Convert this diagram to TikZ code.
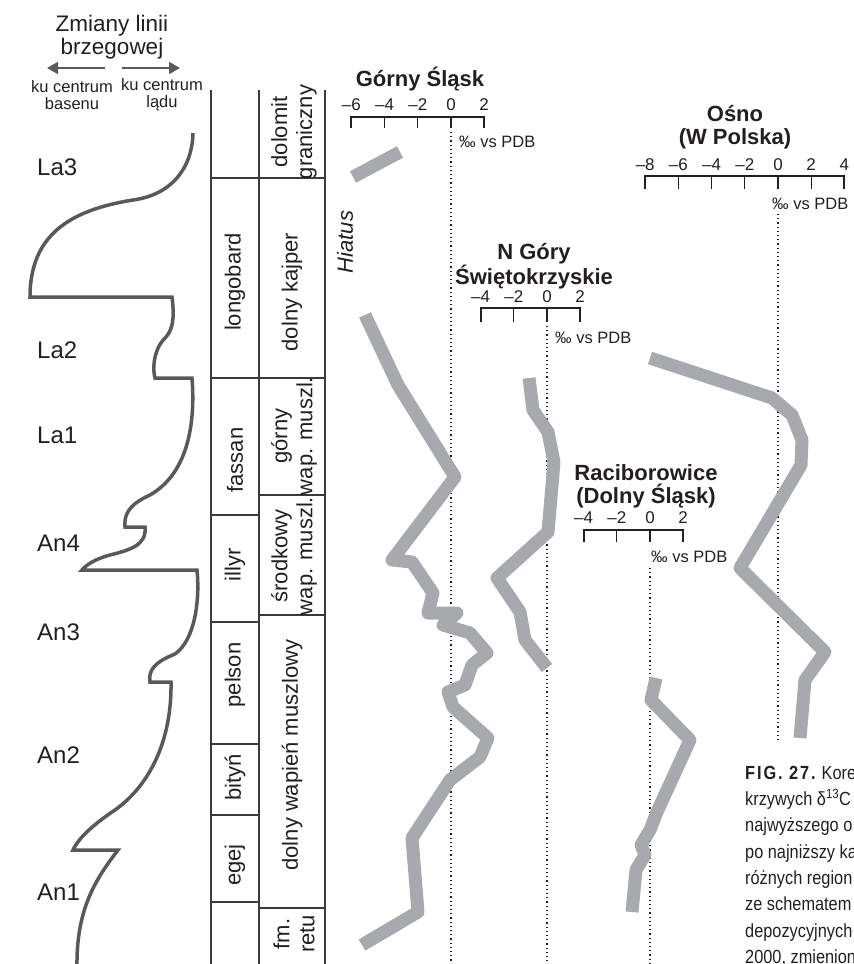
\documentclass[tikz,border=0pt]{standalone}
\usepackage{fontspec}
\setmainfont{Liberation Sans}
\newfontfamily\capfont{Liberation Sans}[FakeStretch=0.86]
\usetikzlibrary{arrows.meta}

\definecolor{shore}{HTML}{58595B}
\definecolor{isogray}{HTML}{A7A9AC}
\definecolor{ink}{HTML}{231F20}
\definecolor{rule}{HTML}{3A3A3C}

\begin{document}
\begin{tikzpicture}[x=1pt,y=-1pt,
  txt/.style={inner sep=0pt, text=ink, align=center},
  headtxt/.style={txt, font=\fontsize{22.5}{23}\selectfont},
  dirtxt/.style={txt, font=\fontsize{16.5}{17}\selectfont},
  tabtxt/.style={txt, rotate=90, font=\fontsize{22}{25}\selectfont},
  seqlbl/.style={inner sep=0pt, text=ink, anchor=west, font=\fontsize{24}{26}\selectfont},
  sitetitle/.style={txt, font=\bfseries\fontsize{22}{23}\selectfont},
  ticklbl/.style={inner sep=0pt, text=ink, font=\fontsize{17}{18}\selectfont},
  pdb/.style={inner sep=0pt, text=ink, anchor=west, font=\fontsize{16.5}{18}\selectfont},
  axisline/.style={draw=ink, line width=1.3pt},
  zeroline/.style={draw=ink, line width=1.2pt, dash pattern=on 1.2pt off 3pt},
  isoline/.style={draw=isogray, line width=13pt, line join=round},
  shoreline/.style={draw=shore, line width=3.5pt, line join=miter},
  tablerule/.style={draw=rule, line width=1.4pt},
  shorearrow/.style={draw=shore, line width=2pt, -{Triangle[length=11pt,width=12pt]}},
  captxt/.style={inner sep=0pt, text=ink, anchor=base west, font=\capfont\fontsize{19}{20}\selectfont},
]
\useasboundingbox (0,0) rectangle (854,964);
\clip (0,0) rectangle (854,964);

% ---------- shoreline header ----------
\node[headtxt] (head) at (112,37) {Zmiany linii\\brzegowej};
\coordinate (basinTail) at (105,68);
\coordinate (basinTip) at (47,68);
\coordinate (landTail) at (122,68);
\coordinate (landTip) at (180,68);
\draw[shorearrow] (basinTail) -- (basinTip);
\draw[shorearrow] (landTail) -- (landTip);
\node[dirtxt] (basin) at (72,95) {ku centrum\\basenu};
\node[dirtxt] (land) at (162,95) {ku centrum\\lądu};

% ---------- shoreline curve ----------
\draw[shoreline] (193,133) .. controls (192,170) and (170,195) .. (133,200)
  .. controls (70,210) and (30,235) .. (30,297)
  -- (172,297)
  .. controls (175,320) and (172,330) .. (166,337)
  .. controls (152,350) and (153,372) .. (155,378)
  -- (192,378)
  .. controls (196,430) and (185,475) .. (150,495)
  .. controls (128,505) and (124,515) .. (125,527)
  -- (145,527)
  .. controls (147,545) and (130,550) .. (110,555)
  .. controls (95,559) and (86,565) .. (82,570)
  -- (197,570)
  .. controls (200,600) and (195,640) .. (175,654)
  .. controls (155,662) and (148,670) .. (150,682)
  -- (171,682)
  .. controls (172,740) and (150,785) .. (115,810)
  .. controls (100,820) and (80,835) .. (73,850)
  -- (118,850)
  .. controls (95,880) and (76,910) .. (77,968);

\node[seqlbl] (La3) at (37,167) {La3};
\node[seqlbl] (La2) at (37,350) {La2};
\node[seqlbl] (La1) at (37,435) {La1};
\node[seqlbl] (An4) at (37,543) {An4};
\node[seqlbl] (An3) at (37,632) {An3};
\node[seqlbl] (An2) at (37,755) {An2};
\node[seqlbl] (An1) at (37,892) {An1};

% ---------- stratigraphic table ----------
\draw[tablerule] (211,90) -- (211,966);
\draw[tablerule] (259,90) -- (259,966);
\draw[tablerule] (325,90) -- (325,966);
\draw[tablerule] (211,178) -- (325,178);
\draw[tablerule] (211,378) -- (325,378);
\draw[tablerule] (259,495) -- (325,495);
\draw[tablerule] (211,515) -- (259,515);
\draw[tablerule] (259,615) -- (325,615);
\draw[tablerule] (211,622) -- (259,622);
\draw[tablerule] (211,744) -- (259,744);
\draw[tablerule] (211,815) -- (259,815);
\draw[tablerule] (211,902) -- (259,902);
\draw[tablerule] (259,908) -- (325,908);

\node[tabtxt] (longobard) at (235,282) {longobard};
\node[tabtxt] (fassan) at (235,460) {fassan};
\node[tabtxt] (illyr) at (235,565) {illyr};
\node[tabtxt] (pelson) at (235,675) {pelson};
\node[tabtxt] (bityn) at (235,777) {bityń};
\node[tabtxt] (egej) at (235,865) {egej};

\node[tabtxt] (dolomit) at (294,132) {dolomit\\graniczny};
\node[tabtxt] (kajper) at (292,292) {dolny kajper};
\node[tabtxt] (gorny) at (294,436) {górny\\wap. muszl.};
\node[tabtxt] (srodkowy) at (294,556) {środkowy\\wap. muszl.};
\node[tabtxt] (dolny) at (292,755) {dolny wapień muszlowy};
\node[tabtxt] (retu) at (294,934) {fm.\\retu};

\node[txt, rotate=90, font=\itshape\fontsize{22}{23}\selectfont] (hiatus) at (345,242) {Hiatus};

% ---------- Górny Śląsk ----------
\node[sitetitle] (gsTitle) at (420,79) {Górny Śląsk};
\draw[axisline] (351,128) -- (351,117) -- (484,117) -- (484,128);
\foreach \v/\t in {-6/{–6},-4/{–4},-2/{–2},0/0,2/2} {
  \draw[axisline] ({451+\v*16.6},117) -- ++(0,11);
  \node[ticklbl] (gs\v) at ({451+\v*16.6},105) {\t};
}
\node[pdb] (gsPdb) at (459,142) {‰ vs PDB};
\draw[zeroline] (451,132) -- (451,966);
\draw[isoline] (353,177) -- (400,152);
\draw[isoline] (365,315) -- (398,385) -- (455,477) -- (392,560) -- (412,562)
  -- (433,593) -- (428,613) -- (457,613) -- (443,625) -- (470,633)
  -- (487,653) -- (472,665) -- (465,685) -- (448,692) -- (453,707)
  -- (488,738) -- (480,757) -- (450,780) -- (412,838) -- (418,912)
  -- (362,945);

% ---------- N Góry Świętokrzyskie ----------
\node[sitetitle] (ngTitle) at (534,266) {N Góry\\Świętokrzyskie};
\draw[axisline] (481,322) -- (481,308) -- (580,308) -- (580,322);
\foreach \v/\t in {-4/{–4},-2/{–2},0/0,2/2} {
  \draw[axisline] ({547+\v*16.6},308) -- ++(0,14);
  \node[ticklbl] (ng\v) at ({547+\v*16.6},297) {\t};
}
\node[pdb] (ngPdb) at (555,338) {‰ vs PDB};
\draw[zeroline] (547,326) -- (547,966);
\draw[isoline] (529,378) -- (533,410) -- (548,432) -- (554,462) -- (548,532)
  -- (497,578) -- (520,612) -- (525,640) -- (547,668);

% ---------- Raciborowice ----------
\node[sitetitle] (rcTitle) at (646,486) {Raciborowice\\(Dolny Śląsk)};
\draw[axisline] (584,542) -- (584,530) -- (683,530) -- (683,542);
\foreach \v/\t in {-4/{–4},-2/{–2},0/0,2/2} {
  \draw[axisline] ({650+\v*16.6},530) -- ++(0,12);
  \node[ticklbl] (rc\v) at ({650+\v*16.6},518) {\t};
}
\node[pdb] (rcPdb) at (651,557) {‰ vs PDB};
\draw[zeroline] (650,568) -- (650,966);
\draw[isoline] (656,678) -- (651,700) -- (690,740) -- (657,812) -- (650,830)
  -- (641,845) -- (645,855) -- (636,870) -- (632,912);

% ---------- Ośno ----------
\node[sitetitle] (osTitle) at (735,127) {Ośno\\(W Polska)};
\draw[axisline] (645,189) -- (645,176) -- (844,176) -- (844,189);
\foreach \v/\t in {-8/{–8},-6/{–6},-4/{–4},-2/{–2},0/0,2/2,4/4} {
  \draw[axisline] ({778+\v*16.6},176) -- ++(0,13);
  \node[ticklbl] (os\v) at ({778+\v*16.6},165) {\t};
}
\node[pdb] (osPdb) at (772,204) {‰ vs PDB};
\draw[zeroline] (778,214) -- (778,740);
\draw[isoline] (650,358) -- (772,398) -- (792,415) -- (802,440) -- (801,465)
  -- (740,568) -- (825,652) -- (805,680) -- (800,738);

% ---------- caption (runs past the right edge) ----------
\node[captxt] (cap1) at (745,779) {{\bfseries\addfontfeatures{LetterSpace=10}FIG. 27.} Kore};
\node[captxt] (cap2) at (745,805) {krzywych δ\textsuperscript{13}C};
\node[captxt] (cap3) at (745,831) {najwyższego o};
\node[captxt] (cap4) at (745,858) {po najniższy ka};
\node[captxt] (cap5) at (745,884) {różnych region};
\node[captxt] (cap6) at (745,910) {ze schematem};
\node[captxt] (cap7) at (745,937) {depozycyjnych};
\node[captxt] (cap8) at (745,963) {2000, zmienion};
\end{tikzpicture}
\end{document}
